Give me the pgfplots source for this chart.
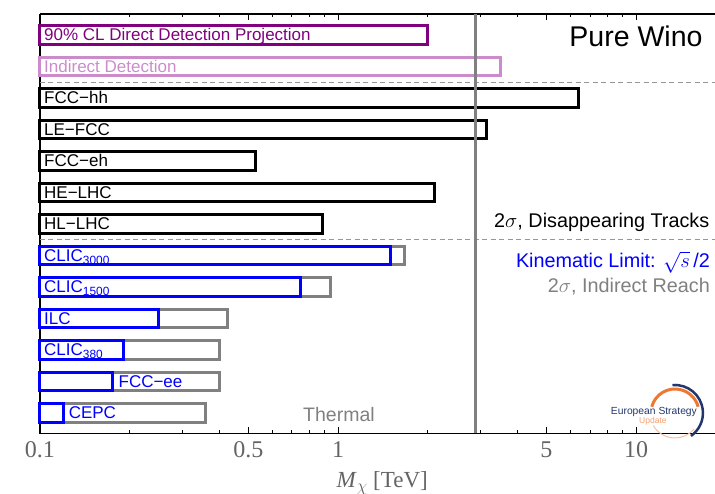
\documentclass[border=0pt]{standalone}
\usepackage{pgfplots}
\pgfplotsset{compat=1.18}
\usepackage{fontspec}
\setmainfont{Liberation Sans}
\newfontfamily\seriffont{Liberation Serif}

\definecolor{dirpurple}{RGB}{128,0,128}
\definecolor{indpurple}{RGB}{204,140,204}
\definecolor{kinblue}{RGB}{0,0,255}
\definecolor{reachgray}{RGB}{128,128,128}
\definecolor{tickgray}{RGB}{100,100,100}
\definecolor{dashgray}{RGB}{150,150,150}
\definecolor{esnavy}{RGB}{35,55,110}
\definecolor{esorange}{RGB}{238,120,50}
\definecolor{espeach}{RGB}{248,190,160}

\begin{document}
\begin{tikzpicture}[x=1bp,y=1bp,
  lbl/.style={anchor=base west, inner sep=0pt, xshift=4bp, yshift=-6bp,
    font=\fontsize{17bp}{20bp}\selectfont},
  note/.style={anchor=base east, inner sep=0pt, font=\fontsize{19.8bp}{22bp}\selectfont}]
\path[use as bounding box] (0,0) rectangle (715,494);
\begin{axis}[
  at={(40bp,60.5bp)}, anchor=south west,
  scale only axis, width=675bp, height=419.5bp,
  xmode=log, xmin=0.1, xmax=18.4,
  ymin=0.349, ymax=13.667,
  log origin x=infty,
  clip=false,
  axis line style={draw=none},
  ytick=\empty,
  xtick={0.1,0.5,1,5,10},
  xticklabels={0.1,0.5,1,5,10},
  minor xtick={0.2,0.3,0.4,0.6,0.7,0.8,0.9,2,3,4,6,7,8,9},
  major tick length=6bp, minor tick length=3.5bp,
  tick style={black, line width=0.8bp},
  /pgf/number format/assume math mode=true,
  xticklabel style={anchor=base, yshift=-24bp, text=tickgray,
    font=\seriffont\fontsize{24bp}{24bp}\selectfont},
  xlabel={\textit{M}\raisebox{-0.3ex}{\fontsize{16bp}{16bp}\selectfont$\chi$}~[TeV]},
  xlabel style={at={(axis description cs:0.507,0)}, anchor=base, yshift=-54.5bp,
    text=tickgray, font=\seriffont\fontsize{23bp}{23bp}\selectfont},
  wb/.style={xbar, bar shift=0pt, bar width=18.5bp, line width=3bp, fill=none, forget plot},
]
% frame: left, bottom and top lines
\draw[line width=1.4bp] (rel axis cs:0,1) -- (rel axis cs:0,0) -- (rel axis cs:1,0);
\draw[line width=1.2bp] (rel axis cs:0,1) -- (rel axis cs:1,1);

% separators between the three groups
\addplot[dashgray, line width=1.1bp, dash pattern=on 5bp off 3.5bp, forget plot]
  coordinates {(0.1,11.5) (18.4,11.5)};
\addplot[dashgray, line width=1.1bp, dash pattern=on 5bp off 3.5bp, forget plot]
  coordinates {(0.1,6.5) (18.4,6.5)};

% direct and indirect detection
\addplot[wb, draw=dirpurple] coordinates {(2.0,13)};
\addplot[wb, draw=indpurple] coordinates {(3.5,12)};

% hadron colliders, disappearing tracks
\addplot[wb, draw=black] coordinates {(6.4,11)};
\addplot[wb, draw=black] coordinates {(3.15,10)};
\addplot[wb, draw=black] coordinates {(0.53,9)};
\addplot[wb, draw=black] coordinates {(2.1,8)};
\addplot[wb, draw=black] coordinates {(0.89,7)};

% lepton colliders: indirect reach
\addplot[wb, draw=reachgray] coordinates {(1.67,6)};
\addplot[wb, draw=reachgray] coordinates {(0.94,5)};
\addplot[wb, draw=reachgray] coordinates {(0.425,4)};
\addplot[wb, draw=reachgray] coordinates {(0.40,3)};
\addplot[wb, draw=reachgray] coordinates {(0.40,2)};
\addplot[wb, draw=reachgray] coordinates {(0.36,1)};
% lepton colliders: kinematic limit
\addplot[wb, draw=kinblue] coordinates {(1.5,6)};
\addplot[wb, draw=kinblue] coordinates {(0.75,5)};
\addplot[wb, draw=kinblue] coordinates {(0.25,4)};
\addplot[wb, draw=kinblue] coordinates {(0.19,3)};
\addplot[wb, draw=kinblue] coordinates {(0.175,2)};
\addplot[wb, draw=kinblue] coordinates {(0.12,1)};

% thermal wino mass
\addplot[reachgray, line width=3bp, forget plot]
  coordinates {(2.9,0.349) (2.9,13.667)};

% bar labels
\node[lbl, text=dirpurple] at (axis cs:0.1,13) {90\% CL Direct Detection Projection};
\node[lbl, text=indpurple] at (axis cs:0.1,12) {Indirect Detection};
\node[lbl] at (axis cs:0.1,11) {FCC−hh};
\node[lbl] at (axis cs:0.1,10) {LE−FCC};
\node[lbl] at (axis cs:0.1,9) {FCC−eh};
\node[lbl] at (axis cs:0.1,8) {HE−LHC};
\node[lbl] at (axis cs:0.1,7) {HL−LHC};
\node[lbl, text=kinblue] at (axis cs:0.1,6) {CLIC\textsubscript{3000}};
\node[lbl, text=kinblue] at (axis cs:0.1,5) {CLIC\textsubscript{1500}};
\node[lbl, text=kinblue] at (axis cs:0.1,4) {ILC};
\node[lbl, text=kinblue] at (axis cs:0.1,3) {CLIC\textsubscript{380}};
\node[lbl, text=kinblue, xshift=2bp] at (axis cs:0.175,2) {FCC−ee};
\node[lbl, text=kinblue, xshift=1bp] at (axis cs:0.12,1) {CEPC};

% annotations
\node[anchor=base east, inner sep=0pt, font=\fontsize{28.5bp}{30bp}\selectfont]
  at ([xshift=-12.3bp]axis cs:18.4,12.63) {Pure Wino};
\node[note] at ([xshift=-5.5bp]axis cs:18.4,6.873) {2$\sigma$, Disappearing Tracks};
\node[note, text=kinblue] at ([xshift=-5bp]axis cs:18.4,5.613) {Kinematic Limit: $\sqrt{s}\,$/2};
\node[note, text=reachgray] at ([xshift=-5bp]axis cs:18.4,4.832) {2$\sigma$, Indirect Reach};
\node[note, text=reachgray, font=\fontsize{19.5bp}{21bp}\selectfont] at (axis cs:1.33,0.714) {Thermal};

% European Strategy Update emblem
\coordinate (es) at (axis cs:13.5,1.0);
\draw[espeach, line width=1bp] ([shift={(-150:25bp)}]es) arc[start angle=-150, end angle=-40, radius=25bp];
\draw[esorange, line width=3bp] ([shift={(165:24bp)}]es) arc[start angle=165, end angle=15, radius=24bp];
\draw[esnavy, line width=2.5bp] ([shift={(95:28bp)}]es) arc[start angle=95, end angle=-55, radius=28bp];
\node[anchor=base, inner sep=0pt, text=esnavy, font=\fontsize{10.3bp}{11bp}\selectfont]
  at ([xshift=-21bp, yshift=-1.5bp]es) {European Strategy};
\node[anchor=base, inner sep=0pt, text=esorange!70, font=\fontsize{8.5bp}{9bp}\selectfont]
  at ([xshift=-22bp, yshift=-10.5bp]es) {Update};
\end{axis}
\end{tikzpicture}
\end{document}
